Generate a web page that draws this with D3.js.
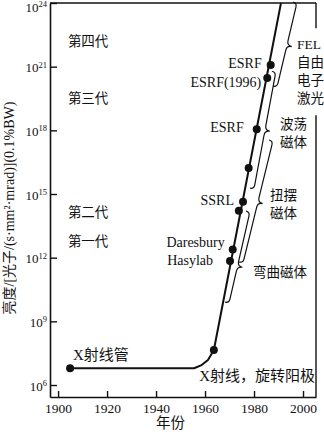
<!DOCTYPE html>
<html><head><meta charset="utf-8">
<script src="https://cdn.jsdelivr.net/npm/d3@7"></script>
<style>
html,body{margin:0;padding:0;background:#fff;}
svg{display:block;}
</style></head><body>
<svg id="chart" width="324" height="434"></svg>
<script>
// ---------- data (years, log10 of brightness) ----------
const xTickYears = [1900, 1920, 1940, 1960, 1980, 2000];
const yTickExps = [6, 9, 12, 15, 18, 21, 24];

const curveYears = [1905, 1955.5, 1958.6, 1961.2, 1963.6, 1991.0];
const curveExps  = [6.79, 6.79, 6.94, 7.18, 7.65, 24.0];

const dotYears = [1904.9, 1963.6, 1970.2, 1971.3, 1973.8, 1975.5, 1977.8, 1981.1, 1985.4, 1986.8];
const dotExps  = [6.79, 7.65, 11.84, 12.39, 14.21, 14.64, 16.23, 18.05, 20.47, 21.08];

const facilityNames = ["Hasylab", "Daresbury", "SSRL", "ESRF", "ESRF(1996)", "ESRF"];
const facilityYears = [1970.2, 1971.3, 1975.5, 1981.1, 1985.4, 1986.8];
const facilityExps  = [11.84, 12.39, 14.64, 18.05, 20.47, 21.08];

const generationNames = ["第四代", "第三代", "第二代", "第一代"];
const generationYear = 1904.0;
const generationExps = [22.21, 19.52, 14.15, 12.79];

const sourceNames = ["X射线管", "X射线，旋转阳极"];
const sourceYears = [1906.1, 2004.9];
const sourceExps  = [7.41, 6.42];

const braceLabels   = [["FEL", "自由", "电子", "激光"], ["波荡", "磁体"], ["扭摆", "磁体"], ["弯曲磁体"]];
const braceTopYears = [1997.5, 1988.9, 1987.7, 1978.3];
const braceTopExps  = [24.0, 20.75, 17.5, 14.15];
const braceBotYears = [1989.4, 1980.0, 1975.5, 1969.8];
const braceBotExps  = [20.04, 15.24, 11.75, 9.86];
const braceTipExps  = [22.0, 18.0, 14.6, 11.6];
const braceLabelYears = [1997.5, 1990.6, 1986.5, 1979.6];
const braceLabelExps  = [22.04, 18.3, 14.95, 11.33];

const xTitle = "年份";
const yTitle = "亮度/[光子/(s·mm²·mrad)](0.1%BW)";

// ---------- drawing ----------
const FONT = '"Liberation Serif","Noto Sans CJK SC",serif';
const svg = d3.select("#chart");
const x = d3.scaleLinear().domain([1896.7, 2005.3]).range([50, 316]);
const y = d3.scaleLog().domain([Math.pow(10, 5.435), 1e24]).range([397, 3]);
const X = v => x(v), Y = e => y(Math.pow(10, e));

// x axis
const gx = svg.append("g").attr("transform", "translate(0," + y.range()[0] + ")")
  .call(d3.axisBottom(x).tickValues(xTickYears).tickFormat(d3.format("d"))
    .tickSize(-6).tickSizeOuter(0).tickPadding(6));
gx.select(".domain").attr("stroke", "#111").attr("stroke-width", 1.6);
gx.selectAll(".tick line").attr("stroke", "#111").attr("stroke-width", 1.4);
gx.selectAll(".tick text").attr("font-family", FONT).attr("font-size", 13.5).attr("fill", "#111");

// y axis
const gy = svg.append("g").attr("transform", "translate(" + x.range()[0] + ",0)")
  .call(d3.axisLeft(y).tickValues(yTickExps.map(e => Math.pow(10, e)))
    .tickSize(-7).tickSizeOuter(0).tickPadding(3));
gy.select(".domain").attr("stroke", "#111").attr("stroke-width", 1.6);
gy.selectAll(".tick line").attr("stroke", "#111").attr("stroke-width", 1.4);
gy.selectAll(".tick text").each(function (d) {
  const t = d3.select(this);
  const py = y(d);
  t.text(null).attr("x", -3).attr("text-anchor", "end").attr("fill", "#111")
    .attr("font-family", FONT).attr("y", Math.max(2, 8 - py));
  t.append("tspan").attr("font-size", 13).text("10");
  t.append("tspan").attr("font-size", 8.5).attr("dy", "-0.55em").text(Math.round(Math.log10(d)));
});

// top border
svg.append("line").attr("x1", x.range()[0]).attr("x2", x.range()[1])
  .attr("y1", y.range()[1]).attr("y2", y.range()[1])
  .attr("stroke", "#111").attr("stroke-width", 1.4);

// axis titles
svg.append("text").attr("x", (x(1940) + x(1960)) / 2 - 10).attr("y", 423).attr("dy", "0.35em")
  .attr("text-anchor", "middle").attr("font-family", FONT).attr("font-size", 14.5).attr("fill", "#111")
  .text(xTitle);
svg.append("text").attr("transform", "translate(9,208) rotate(-90)").attr("dy", "0.35em")
  .attr("text-anchor", "middle").attr("font-family", FONT).attr("font-size", 14).attr("fill", "#111")
  .text(yTitle);

// generation labels
svg.selectAll(".gen").data(generationNames).join("text").attr("class", "gen")
  .attr("x", X(generationYear)).attr("y", (d, i) => Y(generationExps[i])).attr("dy", "0.35em")
  .attr("font-family", FONT).attr("font-size", 13.5).attr("fill", "#111").text(d => d);

// main curve
const curvePts = curveYears.map((yr, i) => [yr, curveExps[i]]);
svg.append("path").datum(curvePts)
  .attr("d", d3.line().x(d => X(d[0])).y(d => Y(d[1])))
  .attr("fill", "none").attr("stroke", "#111").attr("stroke-width", 2).attr("stroke-linejoin", "round");

// dots
svg.selectAll(".dot").data(dotYears).join("circle").attr("class", "dot")
  .attr("cx", d => X(d)).attr("cy", (d, i) => Y(dotExps[i])).attr("r", 4).attr("fill", "#111");

// facility labels
const facOff = [[-17, -1], [-8, -7], [-9, -2], [-13, -2], [-6, 4], [-9, -2]];
svg.selectAll(".fac").data(facilityNames).join("text").attr("class", "fac")
  .attr("x", (d, i) => X(facilityYears[i]) + facOff[i][0])
  .attr("y", (d, i) => Y(facilityExps[i]) + facOff[i][1]).attr("dy", "0.35em")
  .attr("text-anchor", "end").attr("font-family", FONT).attr("font-size", 14).attr("fill", "#111")
  .text(d => d);

// source labels
svg.selectAll(".src").data(sourceNames).join("text").attr("class", "src")
  .attr("x", (d, i) => X(sourceYears[i])).attr("y", (d, i) => Y(sourceExps[i])).attr("dy", "0.35em")
  .attr("text-anchor", (d, i) => i === 0 ? "start" : "end")
  .attr("font-family", FONT).attr("font-size", 15).attr("fill", "#111").text(d => d);

// braces
function bracePath(p0, p1, tipFrac, h, c) {
  const dx = p1[0] - p0[0], dy = p1[1] - p0[1];
  const L = Math.hypot(dx, dy);
  const d = [dx / L, dy / L];
  const n = [d[1], -d[0]];
  if (n[0] < 0) { n[0] = -n[0]; n[1] = -n[1]; }
  const P = (u, v) => [p0[0] + d[0] * u + n[0] * v, p0[1] + d[1] * u + n[1] * v];
  const m = L * tipFrac;
  const f = p => p[0].toFixed(2) + "," + p[1].toFixed(2);
  return "M" + f(P(0, -h)) + "Q" + f(P(0, 0)) + " " + f(P(h, 0)) +
    "L" + f(P(m - c, 0)) + "Q" + f(P(m, 0)) + " " + f(P(m, c)) +
    "Q" + f(P(m, 0)) + " " + f(P(m + c, 0)) +
    "L" + f(P(L - h, 0)) + "Q" + f(P(L, 0)) + " " + f(P(L, -h));
}
braceLabels.forEach((lines, i) => {
  const p0 = [X(braceTopYears[i]), Y(braceTopExps[i])];
  const p1 = [X(braceBotYears[i]), Y(braceBotExps[i])];
  const frac = (braceTopExps[i] - braceTipExps[i]) / (braceTopExps[i] - braceBotExps[i]);
  svg.append("path").attr("d", bracePath(p0, p1, frac, 4, 5))
    .attr("fill", "none").attr("stroke", "#111").attr("stroke-width", 1.2);
});
const labelBoxes = [];
braceLabels.forEach((lines, i) => {
  const t = svg.append("text").attr("font-family", FONT).attr("font-size", 13.5).attr("fill", "#111");
  lines.forEach((ln, k) => {
    t.append("tspan").attr("x", X(braceLabelYears[i])).attr("y", Y(braceLabelExps[i]) + k * 18)
      .attr("dy", "0.35em").text(ln);
  });
  labelBoxes.push(t.node().getBBox());
});

// right border, interrupted by the FEL label
const fb = labelBoxes[0];
const rx = x.range()[1];
svg.append("line").attr("x1", rx).attr("x2", rx).attr("y1", y.range()[1]).attr("y2", fb.y - 9)
  .attr("stroke", "#111").attr("stroke-width", 1.4);
svg.append("line").attr("x1", rx).attr("x2", rx).attr("y1", fb.y + fb.height + 9).attr("y2", y.range()[0])
  .attr("stroke", "#111").attr("stroke-width", 1.4);
</script>
</body></html>
